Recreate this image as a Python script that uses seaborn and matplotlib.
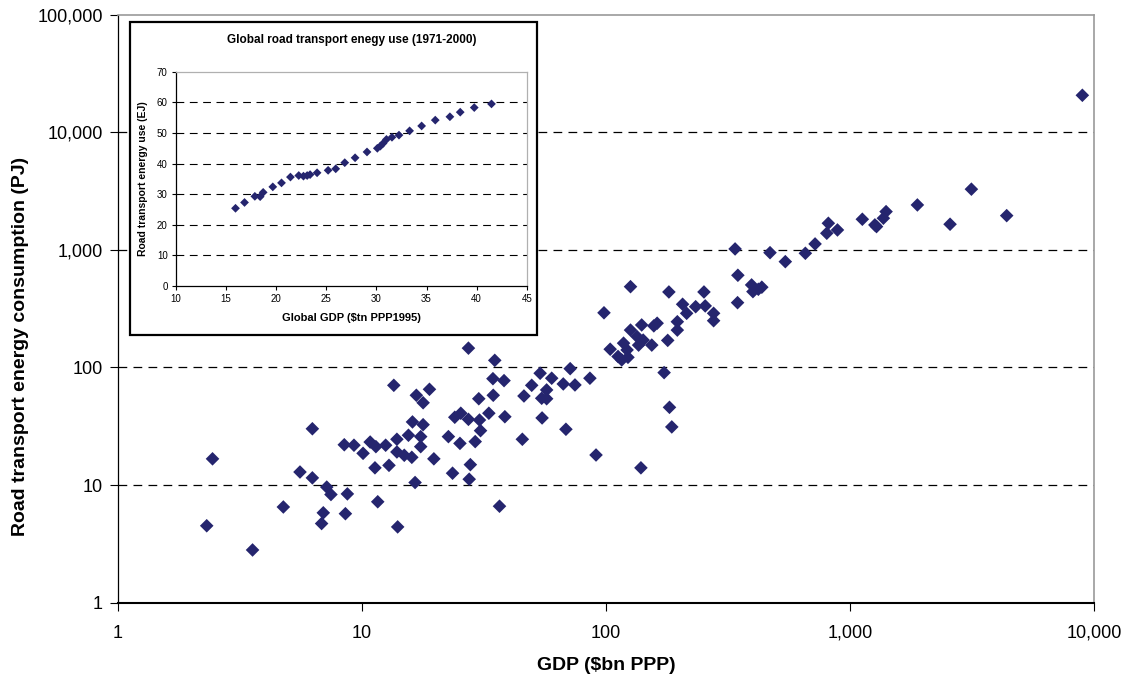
import numpy as np
import pandas as pd
import matplotlib
matplotlib.use("Agg")
import matplotlib.pyplot as plt
import seaborn as sns
from matplotlib.ticker import FuncFormatter, FixedLocator, NullLocator
from matplotlib.patches import Rectangle

# ---- main chart data: country GDP ($bn PPP) vs road transport energy (PJ)
gdp_bn = [2.31, 2.44, 3.56, 4.76, 5.57, 6.26, 6.26, 7.17, 7.46, 6.94, 6.83, 8.71, 8.55, 8.46,
          9.27, 10.1, 10.8, 11.4, 12.5, 11.3, 12.9, 11.6, 13.5, 13.9, 13.9, 14.0, 27.3, 35.0,
          18.9, 16.7, 17.8, 34.4, 38.2, 30.1, 34.5, 33.1, 38.5, 24.0, 25.4, 27.3, 30.3, 16.1,
          17.8, 15.5, 17.4, 17.4, 14.9, 16.0, 19.7, 22.6, 25.2, 29.1, 30.6, 27.8, 23.5, 27.5,
          16.5, 36.6, 45.4, 46.1, 49.6, 53.7, 59.9, 57.1, 54.5, 57.1, 54.7, 66.8, 74.6, 71.3,
          85.9, 68.5, 91.0, 126, 98.1, 181, 252, 347, 346, 395, 400, 206, 214, 233, 255, 276,
          276, 162, 196, 196, 179, 140, 126, 134, 142, 154, 136, 118, 122, 104, 112, 116, 123,
          173, 182, 186, 139, 338, 470, 543, 656, 719, 815, 803, 888, 1123, 1264, 1284, 1370,
          1405, 1888, 421, 435, 8955, 3143, 2570, 4385, 157]
energy_pj = [4.5, 16.7, 2.8, 6.5, 12.9, 30.1, 11.5, 9.6, 8.3, 5.8, 4.7, 8.4, 5.7, 22.0,
             21.8, 18.6, 23.2, 21.2, 21.8, 14.0, 14.7, 7.2, 70.5, 24.5, 19.1, 4.4, 146, 115,
             65.2, 58.0, 50.1, 80.3, 77.3, 54.2, 58.0, 40.8, 38.1, 37.7, 40.8, 36.2, 35.7, 34.4,
             32.6, 26.5, 25.8, 21.2, 17.9, 17.2, 16.7, 25.8, 22.6, 23.4, 29.0, 14.9, 12.6, 11.2,
             10.5, 6.6, 24.5, 57.2, 70.5, 89.3, 81.0, 64.4, 54.7, 54.2, 37.2, 72.4, 71.0, 97.7,
             81.0, 29.8, 18.0, 487, 292, 439, 439, 609, 356, 504, 442, 345, 289, 329, 334, 289,
             250, 238, 245, 208, 170, 230, 208, 183, 171, 155, 155, 161, 141, 143, 124, 116, 122,
             90.4, 45.8, 31.2, 14.0, 1020, 948, 795, 937, 1125, 1687, 1387, 1479, 1825, 1633, 1580, 1862,
             2119, 2415, 463, 482, 20700, 3289, 1655, 1959, 226]

# ---- inset data: global GDP ($tn PPP1995) vs global road transport energy (EJ), 1971-2000
global_gdp_tn = [15.94, 16.84, 17.87, 18.4, 18.7, 19.66, 20.53, 21.42, 22.25, 22.72, 23.09,
                 23.38, 24.08, 25.18, 25.94, 26.84, 27.87, 29.06, 30.09, 30.39, 30.66, 31.0,
                 31.55, 32.25, 33.31, 34.51, 35.87, 37.33, 38.36, 39.76, 41.48]
global_energy_ej = [25.4, 27.3, 29.3, 29.2, 30.6, 32.4, 33.7, 35.6, 36.1, 35.9, 36.1,
                    36.4, 37.0, 37.8, 38.3, 40.3, 41.9, 43.8, 45.0, 45.7, 46.6, 47.9,
                    48.6, 49.3, 50.7, 52.3, 54.2, 55.3, 56.8, 58.3, 59.5]

main_xticks = [1, 10, 100, 1000, 10000]
main_yticks = [1, 10, 100, 1000, 10000, 100000]
inset_xticks = [10, 15, 20, 25, 30, 35, 40, 45]
inset_yticks = [0, 10, 20, 30, 40, 50, 60, 70]

MARK = "#25256e"

sns.set_theme(style="white")
plt.rcParams["font.family"] = ["Liberation Sans", "DejaVu Sans"]
plt.rcParams["text.color"] = "black"
plt.rcParams["axes.labelcolor"] = "black"
plt.rcParams["xtick.color"] = "black"
plt.rcParams["ytick.color"] = "black"
plt.rcParams["xtick.labelcolor"] = "black"
plt.rcParams["ytick.labelcolor"] = "black"

fig = plt.figure(figsize=(11.28, 6.77), dpi=100)
ax = fig.add_axes([0.1046, 0.110, 0.8653, 0.868])

df = pd.DataFrame({"gdp": gdp_bn, "energy": energy_pj})
sns.scatterplot(data=df, x="gdp", y="energy", marker="D", s=48, color=MARK,
                edgecolor="none", linewidth=0, ax=ax, zorder=3)
ax.set_xscale("log")
ax.set_yscale("log")
ax.set_xlim(1, 10000)
ax.set_ylim(1, 100000)
fmt = FuncFormatter(lambda v, p: f"{v:,.0f}")
ax.xaxis.set_major_locator(FixedLocator(main_xticks))
ax.yaxis.set_major_locator(FixedLocator(main_yticks))
ax.xaxis.set_minor_locator(NullLocator())
ax.yaxis.set_minor_locator(NullLocator())
ax.xaxis.set_major_formatter(fmt)
ax.yaxis.set_major_formatter(fmt)
for yv in main_yticks[1:-1]:
    ax.axhline(yv, color="black", lw=0.9, ls=(0, (7, 5)), zorder=1)
ax.tick_params(axis="both", which="major", length=6, width=0.8, color="black",
               labelcolor="black", direction="out", labelsize=13, pad=5,
               bottom=True, left=True)
ax.tick_params(axis="x", pad=10)
ax.spines["left"].set_color("black")
ax.spines["bottom"].set_color("black")
ax.spines["bottom"].set_linewidth(1.5)
ax.spines["left"].set_linewidth(0.9)
ax.spines["top"].set_color("#9a9a9a")
ax.spines["right"].set_color("#9a9a9a")
ax.spines["top"].set_linewidth(1.2)
ax.spines["right"].set_linewidth(1.2)
ax.set_xlabel("GDP ($bn PPP)", fontsize=14, fontweight="bold", color="black")
ax.set_ylabel("Road transport energy consumption (PJ)", fontsize=14, fontweight="bold",
              color="black")
ax.xaxis.set_label_coords(0.5, -0.092)
ax.yaxis.set_label_coords(-0.091, 0.435)

# ---- inset frame
frame = Rectangle((0.1152, 0.505), 0.3608, 0.4625, transform=fig.transFigure,
                  facecolor="white", edgecolor="black", linewidth=1.6, zorder=5)
fig.add_artist(frame)

ax2 = fig.add_axes([0.156, 0.5775, 0.311, 0.3165], zorder=6)
ax2.set_facecolor("white")
di = pd.DataFrame({"g": global_gdp_tn, "e": global_energy_ej})
sns.scatterplot(data=di, x="g", y="e", marker="D", s=20, color=MARK,
                edgecolor="none", linewidth=0, ax=ax2, zorder=3)
ax2.set_xlim(10, 45)
ax2.set_ylim(0, 70)
ax2.set_xticks(inset_xticks)
ax2.set_yticks(inset_yticks)
for yv in inset_yticks[1:-1]:
    ax2.axhline(yv, color="black", lw=0.8, ls=(0, (7, 5)), zorder=1)
ax2.tick_params(axis="both", length=3, width=0.8, color="black", labelcolor="black",
                direction="out", labelsize=7, pad=3, bottom=True, left=True)
ax2.spines["left"].set_color("black")
ax2.spines["bottom"].set_color("black")
ax2.spines["top"].set_color("#b0b0b0")
ax2.spines["right"].set_color("#b0b0b0")
for s in ax2.spines.values():
    s.set_linewidth(0.9)
ax2.set_xlabel("Global GDP ($tn PPP1995)", fontsize=8, fontweight="bold", labelpad=6,
               color="black")
ax2.set_ylabel("Road transport energy use (EJ)", fontsize=7.5, fontweight="bold", labelpad=6,
               color="black")
ax2.set_title("Global road transport enegy use (1971-2000)", fontsize=8.5,
              fontweight="bold", pad=21, color="black")

fig.savefig("out.png", dpi=100)
